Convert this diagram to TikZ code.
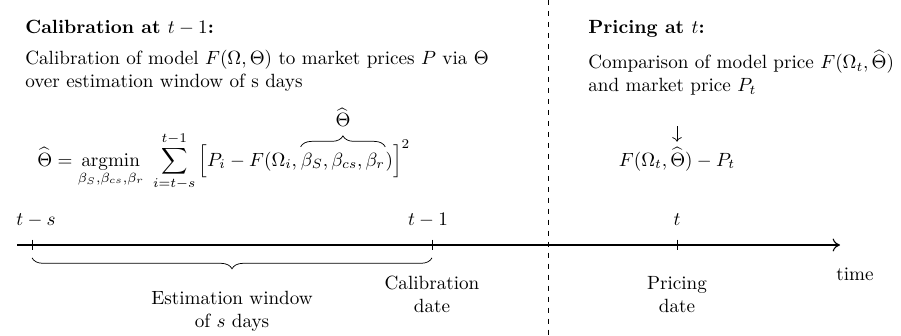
\RequirePackage{fix-cm}
\documentclass[tikz,border=0pt]{standalone}
\usepackage{amsmath}
\usetikzlibrary{arrows.meta,positioning,decorations.pathreplacing}
\tikzset{
  heading/.style={anchor=base west,inner sep=0pt,font=\bfseries},
  explain/.style={anchor=north west,inner sep=0pt,align=left},
  formula/.style={anchor=base west,inner sep=0pt},
  datelbl/.style={anchor=north,inner sep=0pt,align=center},
  ticklbl/.style={anchor=base,inner sep=0pt},
  timeaxis/.style={-{To[length=4pt,width=7pt]},semithick},
  tickmark/.style={thin},
  window/.style={decorate,decoration={brace,mirror,amplitude=6pt},thin},
  parambrace/.style={decorate,decoration={brace,amplitude=6pt},thin}
}
\begin{document}
\fontsize{10.45pt}{12.5pt}\selectfont
\begin{tikzpicture}[x=0.0192cm,y=-0.0192cm]
  \useasboundingbox (0,0) rectangle (901,335);
  % left block: calibration
  \node[heading] (calhead) at (25,33) {Calibration at $t-1$:};
  \node[explain] (caltext) at (25,50) {Calibration of model $F(\Omega,\Theta)$ to market prices $P$ via $\Theta$\\over estimation window of s days};
  \node[formula] (calleft) at (37,166) {$\displaystyle\widehat{\Theta}=\operatorname*{argmin}_{\beta_S,\beta_{cs},\beta_r}\ \sum_{i=t-s}^{t-1}\Big[P_i-F(\Omega_i,\,$};
  \node[formula] (betas) at (calleft.base east) {$\beta_S,\beta_{cs},\beta_r$};
  \node[formula] (calright) at (betas.base east) {$)\Big]^2$};
  \draw[parambrace] ([yshift=3pt]betas.north west) -- ([yshift=3pt]betas.north east);
  \node[above=14pt of betas.north,inner sep=0pt] (paramlbl) {$\widehat{\Theta}$};
  % right block: pricing
  \node[heading] (prihead) at (588,33) {Pricing at $t$:};
  \node[explain] (pritext) at (588,50) {Comparison of model price $F(\Omega_t,\widehat{\Theta})$\\and market price $P_t$};
  \node[anchor=base,inner sep=0pt] (priform) at (677,166) {$F(\Omega_t,\widehat{\Theta})-P_t$};
  \coordinate (pritop) at (677,126);
  \draw[->,thin,shorten >=3pt] (pritop) -- (priform.north);
  % separator
  \coordinate (septop) at (548,0);
  \coordinate (sepbot) at (548,335);
  \draw[dashed,thin] (septop) -- (sepbot);
  % time axis
  \coordinate (axstart) at (17,245);
  \coordinate (axend) at (840,245);
  \coordinate (ts) at (32,245);
  \coordinate (tone) at (432,245);
  \coordinate (tnow) at (677,245);
  \draw[timeaxis] (axstart) -- (axend);
  \foreach \c in {ts,tone,tnow}
    \draw[tickmark] ([yshift=3pt]\c) -- ([yshift=-3pt]\c);
  \node[ticklbl] (tslbl) at (36,225) {$t-s$};
  \node[ticklbl] (tonelbl) at (428,225) {$t-1$};
  \node[ticklbl] (tnowlbl) at (677,225) {$t$};
  \node[ticklbl] (timelbl) at (855,280) {time};
  \draw[window] ([yshift=-7pt]ts) -- ([yshift=-7pt]tone);
  \node[datelbl] (winlbl) at (232,291) {Estimation window\\of $s$ days};
  \node[datelbl] (callbl) at (432,276) {Calibration\\date};
  \node[datelbl] (prilbl) at (677,276) {Pricing\\date};
\end{tikzpicture}
\end{document}
